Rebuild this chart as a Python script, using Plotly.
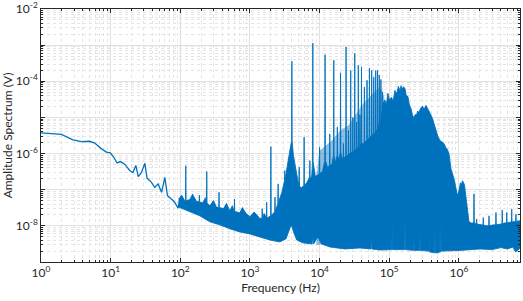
import numpy as np
import plotly.graph_objects as go

# ---------------- data ----------------
# low-frequency part of the spectrum (single line)
low_freq = [1.0, 1.96, 2.88, 3.8, 5.0, 5.9, 7.4, 8.7, 9.9, 11.1, 12.4, 13.8, 15.9, 18.8,
            20.9, 23, 24.9, 27.7, 31, 33.3, 38.6, 43, 48, 53.8, 60, 65.5, 74.5, 83, 93, 98]
low_amp = [3.76e-6, 3.4e-6, 2.4e-6, 2.14e-6, 2.19e-6, 1.95e-6, 1.35e-6, 1.1e-6, 1.05e-6,
           7.9e-7, 5.5e-7, 6.0e-7, 5.1e-7, 3.4e-7, 3.0e-7, 4.7e-7, 2.3e-7, 3.0e-7, 5.4e-7,
           2.1e-7, 1.6e-7, 1.15e-7, 1.45e-7, 8.5e-8, 2.2e-7, 6.8e-8, 5.5e-8, 4.5e-8, 3.1e-8, 5.6e-8]

# upper edge of the dense noise band (between the discrete lines)
hi_freq = [95, 105, 115, 137, 150, 170, 210, 230, 266, 300, 330, 420, 460, 514, 560, 716,
           780, 880, 998, 1150, 1390, 1600, 1820, 2200, 2400, 2700,
           2870, 3450, 3750, 4200, 4420, 4880, 5390, 5800, 6600, 7700, 8700, 9300, 11000,
           13000, 15000, 17000, 19000, 21000, 23000, 25000, 27000, 29000, 31000, 33000,
           35000, 37000, 39000, 42000, 46000, 50000, 54000, 58000, 62000, 66000, 70000,
           74000, 78000, 82000, 86700, 91000, 95700, 101000, 107600, 114000, 120700,
           128000, 135600, 142000, 148000, 152300, 160000, 168200, 176000, 185600, 195000,
           205000, 215000, 226500, 236000, 246000, 256000, 267000, 283000, 300000, 318000,
           336600, 354000, 371700, 395000, 417500, 440000, 468800, 500000, 535000, 570000,
           610800, 645000, 674300, 720600, 745000, 769800, 800000, 835700, 865000, 893300,
           925000, 955000, 1.003e6, 1.054e6, 1.09e6, 1.127e6, 1.203e6, 1.264e6, 1.33e6,
           1.397e6, 1.5e6, 1.9e6, 2.5e6, 3.0e6, 3.8e6, 4.5e6, 5.3e6, 6.2e6, 7.55e6]
hi_amp = [5.6e-8, 7.0e-8, 5.0e-8, 5.3e-8, 7.5e-8, 4.8e-8, 4.3e-8, 6.0e-8, 3.6e-8, 5.0e-8,
          3.3e-8, 3.0e-8, 4.2e-8, 2.6e-8, 3.6e-8, 2.3e-8,
          3.2e-8, 2.2e-8, 1.8e-8, 2.4e-8, 1.6e-8, 2.2e-8, 1.7e-8, 2.3e-8, 3.2e-8, 6.0e-8,
          8.3e-8, 4.7e-7, 1.2e-6, 9.0e-7, 4.7e-7,
          1.8e-7, 1.1e-7, 1.3e-7, 1.6e-7, 2.2e-7, 2.3e-7, 2.6e-7, 3.2e-7, 4.2e-7, 5.0e-7,
          5.6e-7, 6.5e-7, 7.3e-7, 8.0e-7, 9.0e-7, 1.0e-6, 1.1e-6, 1.2e-6, 1.3e-6, 1.45e-6,
          1.6e-6, 1.75e-6, 1.9e-6, 2.2e-6, 2.6e-6, 3.0e-6, 3.4e-6, 3.6e-6, 4.5e-6, 6.0e-6,
          8.0e-6, 1.2e-5, 2.5e-5, 3.0e-5, 2.2e-5, 4.65e-5, 3.0e-5, 3.6e-5, 2.8e-5, 5.6e-5,
          4.5e-5, 7.2e-5, 5.5e-5, 7.5e-5, 6.0e-5, 7.0e-5, 6.4e-5, 4.0e-5, 3.8e-5, 2.2e-5,
          1.78e-5, 1.2e-5, 9.4e-6, 1.2e-5, 1.14e-5, 1.5e-5, 1.38e-5, 1.8e-5, 2.04e-5, 1.7e-5,
          2.15e-5, 1.8e-5, 1.56e-5, 1.2e-5, 9.4e-6, 6.5e-6, 4.4e-6, 3.0e-6, 2.3e-6, 2.1e-6,
          1.9e-6, 1.5e-6, 1.37e-6, 1.0e-6, 6.0e-7, 3.8e-7, 3.0e-7, 2.3e-7, 1.8e-7, 1.29e-7,
          9.0e-8, 6.8e-8, 9.3e-8, 1.55e-7, 1.4e-7, 1.78e-7, 1.38e-7, 6.8e-8, 2.3e-8,
          1.3e-8, 1.2e-8, 1.1e-8, 1.0e-8, 1.05e-8, 1.1e-8, 1.2e-8, 1.25e-8, 1.3e-8, 1.38e-8]

# lower edge of the noise band
lo_freq = [95, 137, 190, 266, 369, 514, 716, 998, 1390, 1935, 2690, 3300, 3610, 3930, 4280,
           4700, 5700, 7800, 8000, 8200, 9400, 10700, 14100, 23100, 37900, 55000, 55800,
           56600, 73500, 109000, 110400, 111800, 166000, 168200, 170400, 224000, 226500,
           229000, 273000, 276000, 279000, 372000, 375800, 380000, 450000, 453900, 458000,
           518000, 522900, 527000, 549000, 553000, 557000, 742000, 1.1e6, 2.0e6, 3.0e6,
           4.0e6, 5.0e6, 6.0e6, 6.5e6, 7.55e6]
lo_amp = [3.3e-8, 2.45e-8, 1.9e-8, 1.29e-8, 1.07e-8, 8.3e-9, 6.8e-9, 6.0e-9, 4.9e-9, 4.07e-9,
          3.6e-9, 4.4e-9, 7.2e-9, 1.07e-8, 6.4e-9, 4.07e-9, 3.4e-9, 3.16e-9, 5.0e-9, 3.16e-9,
          4.9e-9, 3.16e-9, 2.6e-9, 2.3e-9, 2.45e-9, 2.3e-9, 8.9e-9, 2.3e-9, 2.15e-9, 2.2e-9,
          1.38e-8, 2.2e-9, 2.2e-9, 1.23e-8, 2.2e-9, 2.1e-9, 4.1e-9, 2.1e-9, 2.1e-9, 6.8e-9,
          2.1e-9, 2.0e-9, 9.1e-9, 1.9e-9, 1.8e-9, 9.1e-9, 1.8e-9, 1.8e-9, 8.9e-9, 1.9e-9,
          1.9e-9, 1.15e-8, 2.0e-9, 2.04e-9, 2.1e-9, 2.3e-9, 2.2e-9, 2.5e-9, 2.3e-9, 2.6e-9,
          1.9e-9, 2.4e-9]

# top of the lighter, thinner lines between the strong harmonics (10-90 kHz)
tex_freq = [9000, 10000, 15000, 20000, 26000, 32000, 40000, 50000, 60000, 70000, 80000, 86700]
tex_amp = [2.5e-7, 1.2e-6, 2.3e-6, 4.4e-6, 6.0e-6, 1.1e-5, 2.1e-5, 3.4e-5, 4.9e-5, 6.4e-5,
           5.6e-5, 3.0e-5]

# discrete spectral lines: frequency, peak amplitude, level of the band at their foot
spike_freq = [120, 188, 240, 360, 600, 1500, 1740, 2000, 2290, 2540, 3170, 4000, 5100, 6000,
              7250, 8000, 10000, 12000, 14000, 16000, 18000, 20000, 22000, 24000, 26000,
              28000, 30000, 32000, 34000, 36000, 38000, 40000, 44000, 48000, 52000, 56000,
              60000, 64000, 68000, 72000, 76000, 80000, 1.65e6, 1.8e6, 2.24e6, 2.71e6,
              3.41e6, 4.2e6, 4.87e6, 5.74e6, 6.6e6]
spike_peak = [4.6e-7, 7.0e-8, 3.2e-7, 8.5e-8, 5.5e-8, 3.0e-8, 4.5e-8, 1.56e-6, 6.2e-8, 1.45e-7,
              3.4e-7, 3.6e-4, 4.2e-7, 2.84e-6, 6.4e-7, 1.14e-3, 1.5e-6, 5.45e-4, 3.5e-6,
              3.83e-4, 5.4e-6, 1.72e-4, 1.9e-6, 8.97e-4, 4.4e-6, 2.0e-4, 1.0e-5, 5.9e-4,
              7.4e-6, 2.8e-4, 1.2e-5, 2.5e-4, 6.9e-5, 1.07e-4, 2.3e-4, 2.0e-4, 1.3e-4, 2.0e-4,
              2.0e-4, 1.5e-4, 1.12e-4, 5.0e-5, 7.6e-8, 1.55e-8, 1.7e-8, 1.9e-8, 2.35e-8,
              2.75e-8, 2.35e-8, 2.9e-8, 2.1e-8]
spike_base = [5.0e-8, 4.6e-8, 4.3e-8, 3.2e-8, 2.5e-8, 1.6e-8, 1.66e-8, 1.9e-8, 2.5e-8, 4.0e-8,
              1.8e-7, 2.3e-6, 1.3e-7, 1.3e-7, 2.2e-7, 6.0e-7, 2.8e-7, 6.4e-7, 4.7e-7, 8.8e-7,
              9.0e-7, 1.1e-6, 7.5e-7, 8.5e-7, 9.5e-7, 1.05e-6, 1.15e-6, 1.25e-6, 1.35e-6,
              1.5e-6, 1.7e-6, 1.8e-6, 2.0e-6, 2.4e-6, 2.8e-6, 3.2e-6, 3.5e-6, 4.0e-6, 5.0e-6,
              7.0e-6, 1.0e-5, 1.8e-5, 1.2e-8, 1.15e-8, 1.05e-8, 1.0e-8, 1.07e-8, 1.15e-8,
              1.2e-8, 1.28e-8, 1.33e-8]

x_tick_vals = [1e0, 1e1, 1e2, 1e3, 1e4, 1e5, 1e6]
x_tick_text = ["10<sup>0</sup>", "10<sup>1</sup>", "10<sup>2</sup>", "10<sup>3</sup>",
               "10<sup>4</sup>", "10<sup>5</sup>", "10<sup>6</sup>"]
y_tick_vals = [1e-8, 1e-6, 1e-4, 1e-2]
y_tick_text = ["10<sup>-8</sup>", "10<sup>-6</sup>", "10<sup>-4</sup>", "10<sup>-2</sup>"]
y_odd_decades = [1e-9, 1e-7, 1e-5, 1e-3]

# ---------------- build the band outline ----------------
pts = list(zip(hi_freq, hi_amp))
for f, p, b in zip(spike_freq, spike_peak, spike_base):
    pts += [(f * 0.992, b), (f, p), (f * 1.008, b)]
pts.sort()
poly_x = [p[0] for p in pts] + lo_freq[::-1]
poly_y = [p[1] for p in pts] + lo_amp[::-1]

tex_x = tex_freq + [tex_freq[-1], tex_freq[0]]
tex_y = tex_amp + [3e-9, 3e-9]

BLUE = "#0072BD"
INK = "#262626"
FONT = "Lato"
GRID = "#e1e1e1"
MINOR = "#e4e4e4"

fig = go.Figure()
fig.add_trace(go.Scatter(x=tex_x, y=tex_y, mode="lines", fill="toself",
                         fillcolor="rgba(0,114,189,0.45)", line=dict(width=0),
                         hoverinfo="skip", showlegend=False))
fig.add_trace(go.Scatter(x=poly_x, y=poly_y, mode="lines", fill="toself",
                         fillcolor=BLUE, line=dict(color=BLUE, width=0.9),
                         hoverinfo="skip", showlegend=False))
fig.add_trace(go.Scatter(x=low_freq, y=low_amp, mode="lines",
                         line=dict(color=BLUE, width=1.3), showlegend=False))

axis_common = dict(
    type="log", showline=True, linecolor=INK, linewidth=0.7, mirror="ticks",
    ticks="inside", ticklen=4, tickcolor=INK, tickwidth=0.7, automargin=False,
    showgrid=True, gridcolor=GRID, gridwidth=0.7, zeroline=False,
    tickfont=dict(family=FONT, size=12, color=INK),
    minor=dict(dtick="D1", ticks="inside", ticklen=2, tickcolor=INK, tickwidth=0.6,
               showgrid=True, gridcolor=MINOR, griddash="dot", gridwidth=0.6),
)

fig.update_xaxes(**axis_common, range=[0, np.log10(7.55e6)], tickmode="array",
                 tickvals=x_tick_vals, ticktext=x_tick_text,
                 title=dict(text="Frequency (Hz)", font=dict(family=FONT, size=12, color=INK),
                            standoff=2))
fig.update_yaxes(**axis_common, range=[-9, -2], tickmode="array",
                 tickvals=y_tick_vals, ticktext=y_tick_text,
                 title=dict(text="Amplitude Spectrum (V)",
                            font=dict(family=FONT, size=12, color=INK), standoff=2))

# second (unlabelled) y axis carrying the odd-decade grid lines and ticks
fig.update_layout(yaxis2=dict(type="log", range=[-9, -2], overlaying="y", side="left",
                              tickmode="array", tickvals=y_odd_decades, showticklabels=False,
                              ticks="inside", ticklen=4, tickcolor=INK, tickwidth=0.7,
                              mirror="ticks", showgrid=True, gridcolor=GRID, gridwidth=0.7,
                              showline=False, zeroline=False, automargin=False,
                              layer="below traces"))
fig.add_trace(go.Scatter(x=[1], y=[1e-9], yaxis="y2", mode="markers",
                         marker=dict(opacity=0), hoverinfo="skip", showlegend=False))

fig.update_layout(width=523, height=301, margin=dict(l=41, r=3, t=9, b=39),
                  paper_bgcolor="white", plot_bgcolor="white",
                  font=dict(family=FONT, color=INK))
fig.write_html("out.html", config={"displayModeBar": False},
               post_script="document.body.style.margin='0';document.body.style.overflow='hidden';")
